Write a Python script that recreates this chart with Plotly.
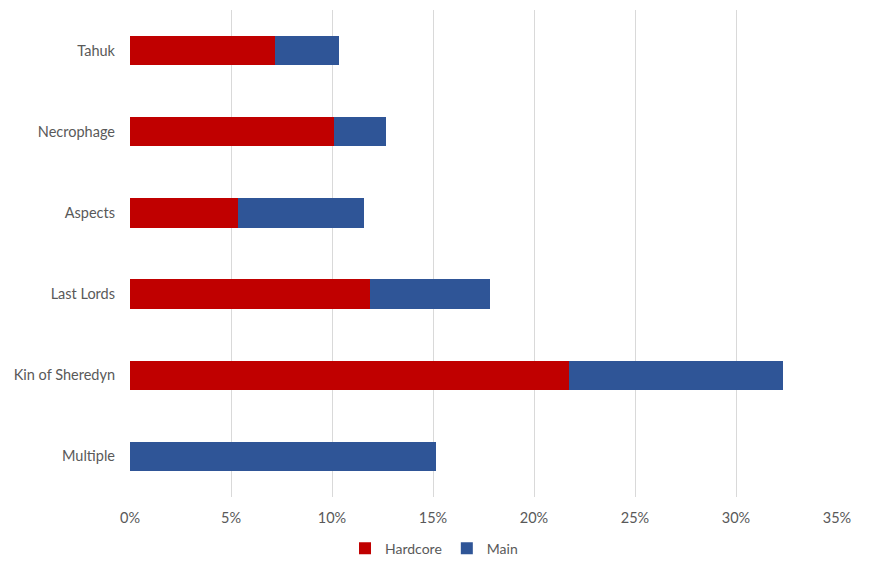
import plotly.graph_objects as go

categories = ["Tahuk", "Necrophage", "Aspects", "Last Lords", "Kin of Sheredyn", "Multiple"]
hardcore = [0.0720, 0.1012, 0.0537, 0.1186, 0.2171, 0.0]
main = [0.0317, 0.0253, 0.0620, 0.0594, 0.1064, 0.1517]
x_ticks = [0, 0.05, 0.10, 0.15, 0.20, 0.25, 0.30, 0.35]
x_tick_labels = ["0%", "5%", "10%", "15%", "20%", "25%", "30%", "35%"]

font_family = "Lato, Carlito, Calibri, sans-serif"
text_color = "#595959"

fig = go.Figure()
fig.add_trace(go.Bar(y=categories, x=hardcore, name="Hardcore", orientation="h",
                     marker=dict(color="#C00000", line=dict(width=0))))
fig.add_trace(go.Bar(y=categories, x=main, name="Main", orientation="h",
                     marker=dict(color="#2F5597", line=dict(width=0))))

fig.update_layout(
    barmode="stack",
    bargap=0.64,
    width=877, height=562,
    margin=dict(l=122, r=48, t=2, b=73, autoexpand=False),
    paper_bgcolor="white", plot_bgcolor="white",
    font=dict(family=font_family, size=14.5, color=text_color),
    legend=dict(orientation="h", x=0.43, xanchor="center", y=-0.106, yanchor="middle",
                font=dict(size=14, color=text_color), traceorder="normal",
                itemwidth=30),
    showlegend=True,
)
fig.update_xaxes(range=[0, 0.35], tickvals=x_ticks, ticktext=x_tick_labels,
                 showgrid=True, gridcolor="#D9D9D9", gridwidth=1, zeroline=False,
                 showline=False, ticks="", ticklabelstandoff=10, automargin=False)
fig.update_yaxes(autorange="reversed", showgrid=False, zeroline=False, showline=False,
                 ticks="", ticklabelstandoff=14, automargin=False)

fig.write_html("out.html")
